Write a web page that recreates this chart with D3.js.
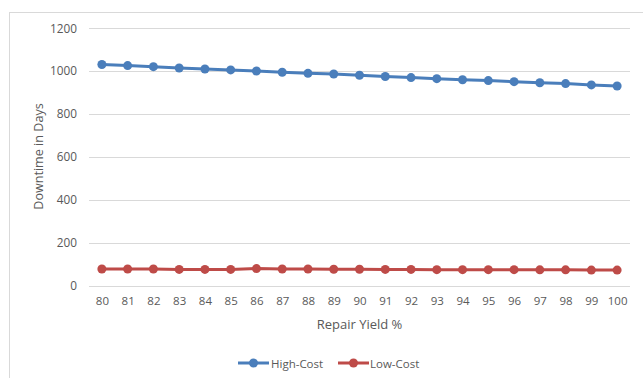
<!DOCTYPE html>
<html><head><meta charset="utf-8">
<script src="https://cdn.jsdelivr.net/npm/d3@7"></script>
<style>body{margin:0;background:#fff}svg{display:block;font-family:"Open Sans",sans-serif}</style>
</head><body><svg id="c" width="643" height="378"></svg>
<script>
const categories = [80,81,82,83,84,85,86,87,88,89,90,91,92,93,94,95,96,97,98,99,100];
const highCost = [1031,1026,1021,1015,1010,1006,1001,995,990,987,981,975,970,965,960,956,951,946,942,936,931];
const lowCost = [77,77,77,75,75,75,79,77,77,76,76,75,75,74,74,74,74,73,73,72,72];
const yTicks = [0,200,400,600,800,1000,1200];
const seriesNames = ["High-Cost","Low-Cost"];
const colors = ["#4A7EBB","#BE4B48"];

const svg = d3.select("#c");
const W=643,H=378;
const m={l:89,r:13,t:28,b:92};
const x = d3.scalePoint().domain(categories).range([m.l, W-m.r]).padding(0.5);
const y = d3.scaleLinear().domain([0,1200]).range([285.5, 28.3]);

// chart border
svg.append("rect").attr("x",9.5).attr("y",12.5).attr("width",W).attr("height",H)
  .attr("fill","none").attr("stroke","#d9d9d9");

// gridlines
svg.append("g").selectAll("line").data(yTicks).join("line")
  .attr("x1",m.l).attr("x2",W-m.r).attr("y1",d=>Math.round(y(d))+0.5).attr("y2",d=>Math.round(y(d))+0.5)
  .attr("stroke","#d9d9d9").attr("stroke-width",1);

// y axis labels
const ya = svg.append("g").attr("transform",`translate(${m.l},0)`)
  .call(d3.axisLeft(y).tickValues(yTicks).tickFormat(d3.format("d")).tickSize(0).tickPadding(12));
ya.select(".domain").remove();
ya.selectAll("text").attr("fill","#595959").style("font-size","11.8px").style("font-family","Open Sans");

// x axis labels
const xa = svg.append("g").attr("transform",`translate(0,${y(0)})`)
  .call(d3.axisBottom(x).tickSize(0).tickPadding(11));
xa.select(".domain").remove();
xa.selectAll("text").attr("fill","#595959").style("font-size","11.5px").style("font-family","Open Sans");

// axis titles
svg.append("text").attr("x",(m.l+W-m.r)/2).attr("y",329).attr("text-anchor","middle")
  .attr("fill","#595959").style("font-size","13px").text("Repair Yield %");
svg.append("text").attr("transform",`translate(43,156.5) rotate(-90)`).attr("text-anchor","middle")
  .attr("fill","#595959").style("font-size","12.6px").text("Downtime in Days");

// series
[highCost,lowCost].forEach((vals,i)=>{
  const data = categories.map((c,j)=>({c,v:vals[j]}));
  svg.append("path").datum(data).attr("fill","none").attr("stroke",colors[i]).attr("stroke-width",3)
    .attr("stroke-linejoin","round")
    .attr("d",d3.line().x(d=>x(d.c)).y(d=>y(d.v)));
  svg.append("g").selectAll("circle").data(data).join("circle")
    .attr("cx",d=>x(d.c)).attr("cy",d=>y(d.v)).attr("r",4.5).attr("fill",colors[i]);
});

// legend
const lg = [{x:238,tx:271},{x:338,tx:370}];
seriesNames.forEach((n,i)=>{
  const g = svg.append("g");
  g.append("line").attr("x1",lg[i].x).attr("x2",lg[i].x+31).attr("y1",363).attr("y2",363)
    .attr("stroke",colors[i]).attr("stroke-width",3);
  g.append("circle").attr("cx",lg[i].x+15.5).attr("cy",363).attr("r",4.5).attr("fill",colors[i]);
  g.append("text").attr("x",lg[i].tx).attr("y",367.5).attr("fill","#595959").style("font-size","11.5px").text(n);
});
</script></body></html>
